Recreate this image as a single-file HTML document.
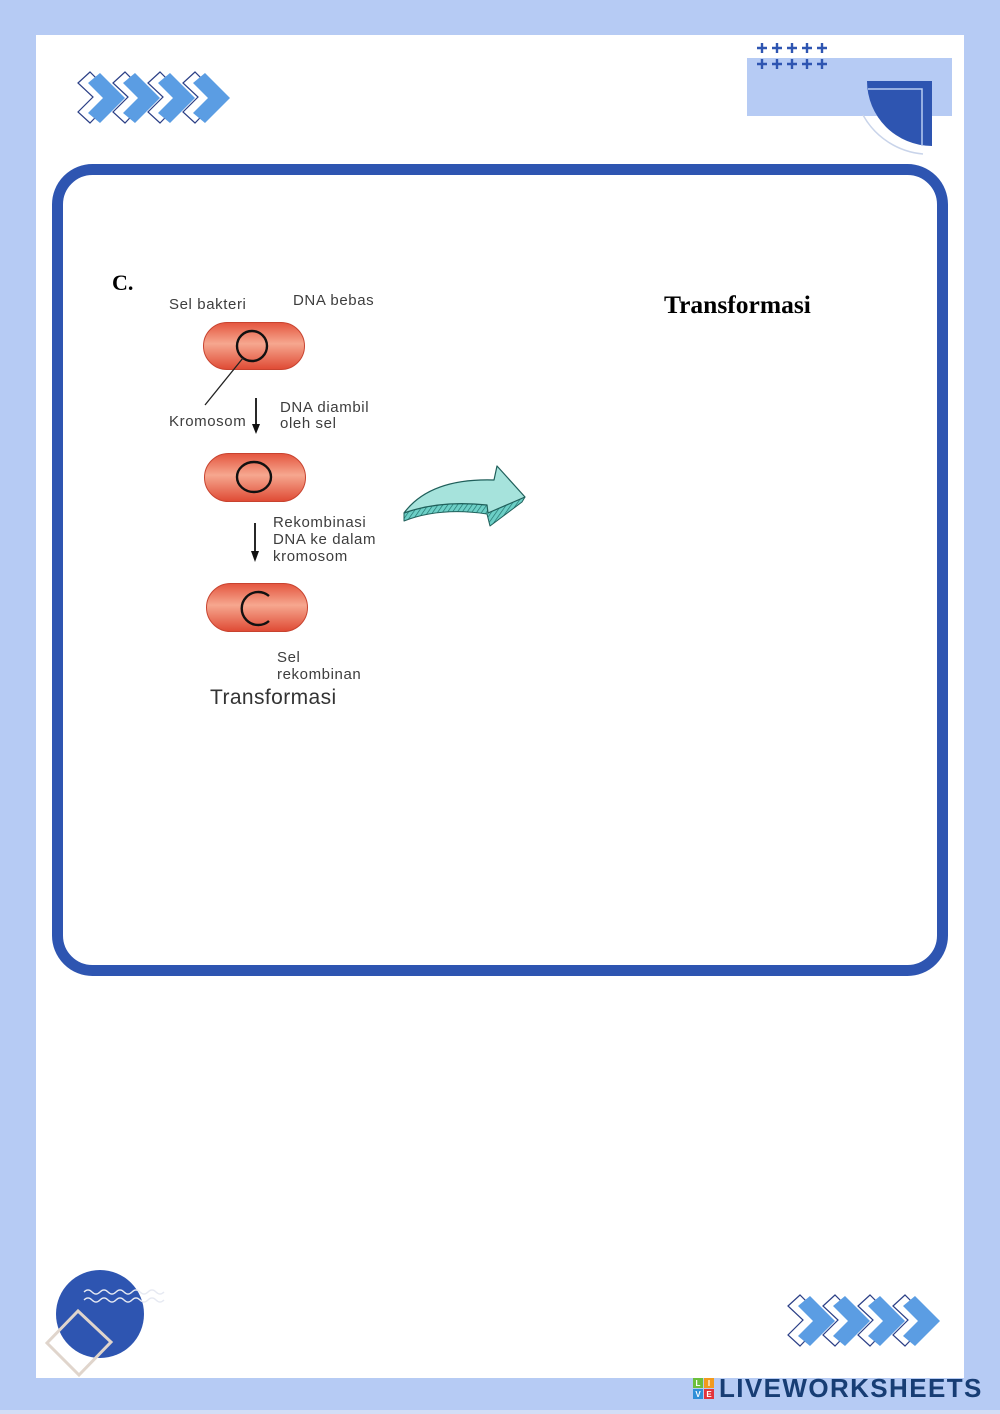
<!DOCTYPE html>
<html><head><meta charset="utf-8"><style>
html,body{margin:0;padding:0;background:#b6cbf4;}
svg{display:block;}
</style></head><body>
<svg width="1000" height="1414" viewBox="0 0 1000 1414" xmlns="http://www.w3.org/2000/svg">
<defs>
<linearGradient id="cell" x1="0" y1="0" x2="0" y2="1">
<stop offset="0" stop-color="#e4553e"/>
<stop offset="0.45" stop-color="#f6a78f"/>
<stop offset="1" stop-color="#df4a34"/>
</linearGradient>
<pattern id="hatch" width="4" height="4" patternUnits="userSpaceOnUse" patternTransform="rotate(35)">
<rect width="4" height="4" fill="#6ccfc6"/>
<line x1="0" y1="0" x2="0" y2="4" stroke="#1f6f6a" stroke-width="1.3"/>
</pattern>
<g id="chev">
<path d="M-10,10 L2,-1 L27,24 L2,50 L-10,39 L5,24 Z" fill="#fff" stroke="#2b3f86" stroke-width="1.2"/>
<path d="M0,10 L12,0 L37,25 L12,50 L0,40 L15,25 Z" fill="#5b9de3"/>
</g>
</defs>
<rect x="0" y="0" width="1000" height="1414" fill="#b6cbf4"/>
<rect x="0" y="1410" width="1000" height="4" fill="#d3def6"/>
<rect x="36" y="35" width="928" height="1343" fill="#ffffff"/>

<!-- top-left chevrons -->
<use href="#chev" x="88" y="73"/>
<use href="#chev" x="123" y="73"/>
<use href="#chev" x="158" y="73"/>
<use href="#chev" x="193" y="73"/>

<!-- top-right decoration -->
<rect x="747" y="58" width="205" height="58" fill="#b6cbf4"/>
<g stroke="#2e55b1" stroke-width="2.4">
<path d="M757,48h10M762,43v10M772,48h10M777,43v10M787,48h10M792,43v10M802,48h10M807,43v10M817,48h10M822,43v10"/>
<path d="M757,64h10M762,59v10M772,64h10M777,59v10M787,64h10M792,59v10M802,64h10M807,59v10M817,64h10M822,59v10"/>
</g>
<path d="M863,115 A76,76 0 0 0 923,154" fill="none" stroke="#c9d4ea" stroke-width="1.5"/>
<path d="M867,81 L932,81 L932,146 A65,65 0 0 1 867,81 Z" fill="#2e55b1"/>
<path d="M868,89 L922,89 L922,146" fill="none" stroke="#b9cdf2" stroke-width="1.5"/>

<!-- main rounded box -->
<rect x="57.5" y="169.5" width="885" height="801" rx="35" ry="35" fill="none" stroke="#2e55b1" stroke-width="11"/>

<text x="112" y="290" font-family="Liberation Serif, serif" font-weight="bold" font-size="22" fill="#000">C.</text>
<text x="664" y="313" font-family="Liberation Serif, serif" font-weight="bold" font-size="25.5" fill="#000">Transformasi</text>

<!-- diagram -->
<g font-family="Liberation Sans, sans-serif" font-size="15" fill="#3d3d3d" letter-spacing="0.6">
<text x="169" y="309">Sel bakteri</text>
<text x="293" y="305">DNA bebas</text>
<text x="169" y="426">Kromosom</text>
<text x="280" y="412">DNA diambil</text>
<text x="280" y="428">oleh sel</text>
<text x="273" y="527">Rekombinasi</text>
<text x="273" y="544">DNA ke dalam</text>
<text x="273" y="561">kromosom</text>
<text x="277" y="662">Sel</text>
<text x="277" y="679">rekombinan</text>
</g>
<text x="210" y="704" font-family="Liberation Sans, sans-serif" font-size="21" fill="#333" letter-spacing="0.4">Transformasi</text>

<!-- cells -->
<rect x="203.5" y="322.5" width="101" height="47" rx="23.5" fill="url(#cell)" stroke="#c8432f" stroke-width="1"/>
<circle cx="252" cy="346" r="15" fill="none" stroke="#111" stroke-width="2.4"/>
<line x1="243" y1="358" x2="205" y2="405" stroke="#222" stroke-width="1.3"/>
<line x1="256" y1="398" x2="256" y2="426" stroke="#111" stroke-width="1.8"/>
<path d="M252,424 L260,424 L256,434 Z" fill="#111"/>

<rect x="204.5" y="453.5" width="101" height="48" rx="24" fill="url(#cell)" stroke="#c8432f" stroke-width="1"/>
<ellipse cx="254" cy="477" rx="17" ry="15" fill="none" stroke="#111" stroke-width="2.4"/>
<line x1="255" y1="523" x2="255" y2="553" stroke="#111" stroke-width="1.8"/>
<path d="M251,551 L259,551 L255,562 Z" fill="#111"/>

<rect x="206.5" y="583.5" width="101" height="48" rx="24" fill="url(#cell)" stroke="#c8432f" stroke-width="1"/>
<path d="M269,596 A16.5,16.5 0 1 0 269,621" fill="none" stroke="#111" stroke-width="2.4"/>

<!-- teal arrow -->
<path d="M404,513 Q440,500 487,505 L525,497 L522,502 L490,526 L487,514 Q440,507 404,521 Z" fill="url(#hatch)" stroke="#1f5f5a" stroke-width="1" stroke-linejoin="round"/>
<path d="M404,513 Q430,478 494,480 L497,466 L525,497 L488,513 L487,505 Q440,500 404,513 Z" fill="#a6e3dc" stroke="#1f5f5a" stroke-width="1.2" stroke-linejoin="round"/>

<!-- bottom-left decoration -->
<circle cx="100" cy="1314" r="44" fill="#2e55b1"/>
<g fill="none" stroke-width="1.3">
<path d="M84,1292 q4,-4 8,0 t8,0 t8,0 t8,0 t8,0 t8,0 t8,0 t8,0 t8,0 t8,0" stroke="#e6e9f2"/>
<path d="M84,1300 q4,-4 8,0 t8,0 t8,0 t8,0 t8,0 t8,0 t8,0 t8,0 t8,0 t8,0" stroke="#e6e9f2"/>
</g>
<path d="M78,1311 L111,1342 L79,1375 L47,1343 Z" fill="none" stroke="#e0d5cc" stroke-width="3"/>

<!-- bottom-right chevrons -->
<use href="#chev" x="798" y="1296"/>
<use href="#chev" x="833" y="1296"/>
<use href="#chev" x="868" y="1296"/>
<use href="#chev" x="903" y="1296"/>

<!-- logo -->
<rect x="693" y="1378" width="10" height="10" fill="#6cbf3c"/>
<rect x="704" y="1378" width="10" height="10" fill="#f29a1d"/>
<rect x="693" y="1389" width="10" height="10" fill="#2f8fd8"/>
<rect x="704" y="1389" width="10" height="10" fill="#e2343c"/>
<g font-family="Liberation Sans, sans-serif" font-weight="bold" font-size="8" fill="#fff" text-anchor="middle">
<text x="698" y="1386">L</text><text x="709" y="1386">I</text>
<text x="698" y="1397">V</text><text x="709" y="1397">E</text>
</g>
<text x="719" y="1397" font-family="Liberation Sans, sans-serif" font-weight="bold" font-size="26" fill="#173d74" letter-spacing="1.4">LIVEWORKSHEETS</text>
</svg>
</body></html>
